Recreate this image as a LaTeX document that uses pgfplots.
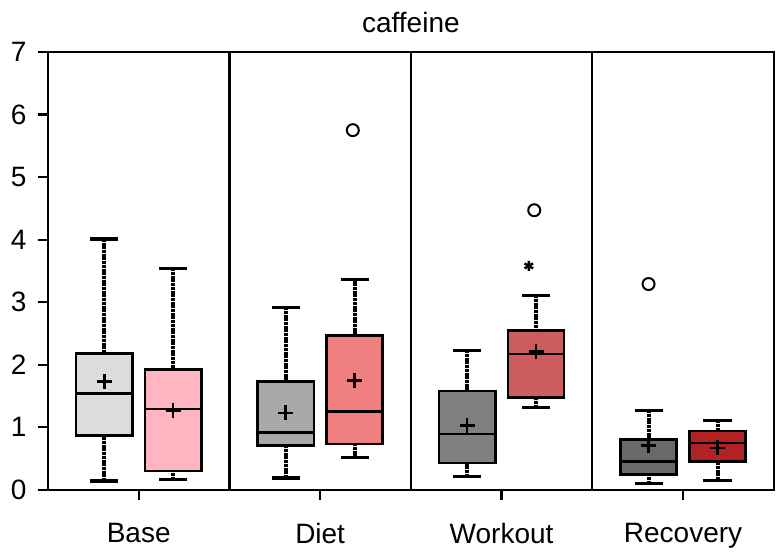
\documentclass[border=0pt]{standalone}
\usepackage{pgfplots}
\pgfplotsset{compat=1.18}
\usepgfplotslibrary{statistics}
\usepackage{fontspec}
\setmainfont{Liberation Sans}
\definecolor{c1}{HTML}{DCDCDC}
\definecolor{c2}{HTML}{FFB6C1}
\definecolor{c3}{HTML}{A9A9A9}
\definecolor{c4}{HTML}{F08080}
\definecolor{c5}{HTML}{808080}
\definecolor{c6}{HTML}{CD5C5C}
\definecolor{c7}{HTML}{696969}
\definecolor{c8}{HTML}{B22222}
\pgfplotsset{
  boxplot/draw/lower whisker/.code={%
    \draw[black, line width=4pt, dash pattern=on 3pt off 0.7pt]
      (boxplot box cs:\pgfplotsboxplotvalue{lower whisker},0.5) -- (boxplot box cs:\pgfplotsboxplotvalue{lower quartile},0.5);
    \draw[black, line width=3.2pt, solid]
      (boxplot whisker cs:\pgfplotsboxplotvalue{lower whisker},0) -- (boxplot whisker cs:\pgfplotsboxplotvalue{lower whisker},1);
  },
  boxplot/draw/upper whisker/.code={%
    \draw[black, line width=4pt, dash pattern=on 3pt off 0.7pt]
      (boxplot box cs:\pgfplotsboxplotvalue{upper whisker},0.5) -- (boxplot box cs:\pgfplotsboxplotvalue{upper quartile},0.5);
    \draw[black, line width=3.2pt, solid]
      (boxplot whisker cs:\pgfplotsboxplotvalue{upper whisker},0) -- (boxplot whisker cs:\pgfplotsboxplotvalue{upper whisker},1);
  },
  mybox/.style={draw=black, line width=2.6pt, solid, fill=#1,
    mark=+, mark size=7.5pt, mark options={black, line width=2.2pt, solid},
    boxplot/draw direction=y,
    boxplot/box extend=0.31, boxplot/whisker extend=0.155,
    boxplot/every median/.style={black, line width=2.6pt},
    boxplot/every average/.style={/tikz/mark=+}},
}
\begin{document}
\begin{tikzpicture}
\begin{axis}[
  scale only axis, width=726pt, height=438pt,
  xmin=-0.5, xmax=3.5, ymin=0, ymax=7,
  xtick={0,1,2,3}, xticklabels={Base,Diet,Workout,Recovery},
  ytick={0,1,...,7},
  tick align=outside, major tick length=10pt,
  xtick pos=bottom, ytick pos=left,
  axis line style={line width=2.2pt},
  every tick/.style={black, line width=2.2pt},
  extra x ticks={0.5,1.5,2.5}, extra x tick labels={},
  extra x tick style={grid=major, major grid style={black, line width=2.2pt}, major tick length=0pt},
  /pgf/number format/assume math mode=true,
  tick label style={font=\fontsize{28}{30}\selectfont},
  x tick label style={yshift=-20pt},
  y tick label style={xshift=-8pt},
  title=caffeine,
  title style={font=\fontsize{28}{30}\selectfont, yshift=10pt},
  clip=false,
]
\coordinate (sw) at (rel axis cs:0,0);
\coordinate (ne) at (rel axis cs:1,1);
% Base
\addplot[mybox=c1, boxplot prepared={draw position=-0.19, lower whisker=0.14, lower quartile=0.87, median=1.54, upper quartile=2.18, upper whisker=4.01, average=1.73}] coordinates {};
\addplot[mybox=c2, boxplot prepared={draw position=0.19, lower whisker=0.16, lower quartile=0.30, median=1.29, upper quartile=1.92, upper whisker=3.54, average=1.27}] coordinates {};
% Diet
\addplot[mybox=c3, boxplot prepared={draw position=0.81, lower whisker=0.19, lower quartile=0.71, median=0.92, upper quartile=1.73, upper whisker=2.92, average=1.23}] coordinates {};
\addplot[mybox=c4, boxplot prepared={draw position=1.19, lower whisker=0.52, lower quartile=0.735, median=1.25, upper quartile=2.47, upper whisker=3.36, average=1.75}] coordinates {};
% Workout
\addplot[mybox=c5, boxplot prepared={draw position=1.81, lower whisker=0.21, lower quartile=0.43, median=0.895, upper quartile=1.58, upper whisker=2.23, average=1.03}] coordinates {};
\addplot[mybox=c6, boxplot prepared={draw position=2.19, lower whisker=1.31, lower quartile=1.48, median=2.17, upper quartile=2.55, upper whisker=3.11, average=2.21}] coordinates {};
% Recovery
\addplot[mybox=c7, boxplot prepared={draw position=2.81, lower whisker=0.10, lower quartile=0.245, median=0.45, upper quartile=0.80, upper whisker=1.27, average=0.71}] coordinates {};
\addplot[mybox=c8, boxplot prepared={draw position=3.19, lower whisker=0.155, lower quartile=0.45, median=0.75, upper quartile=0.94, upper whisker=1.11, average=0.67}] coordinates {};
% outliers
\addplot[only marks, mark=o, mark size=6pt, mark options={black, line width=2pt, solid}] coordinates {(1.18,5.75) (2.18,4.47) (2.81,3.29)};
\addplot[only marks, mark=asterisk, mark size=5pt, mark options={black, line width=2.4pt, solid}] coordinates {(2.15,3.58)};
\end{axis}
\pgfresetboundingbox
\path ([shift={(-48pt,-66pt)}]sw) rectangle ([shift={(8.25pt,52pt)}]ne);
\end{tikzpicture}
\end{document}
